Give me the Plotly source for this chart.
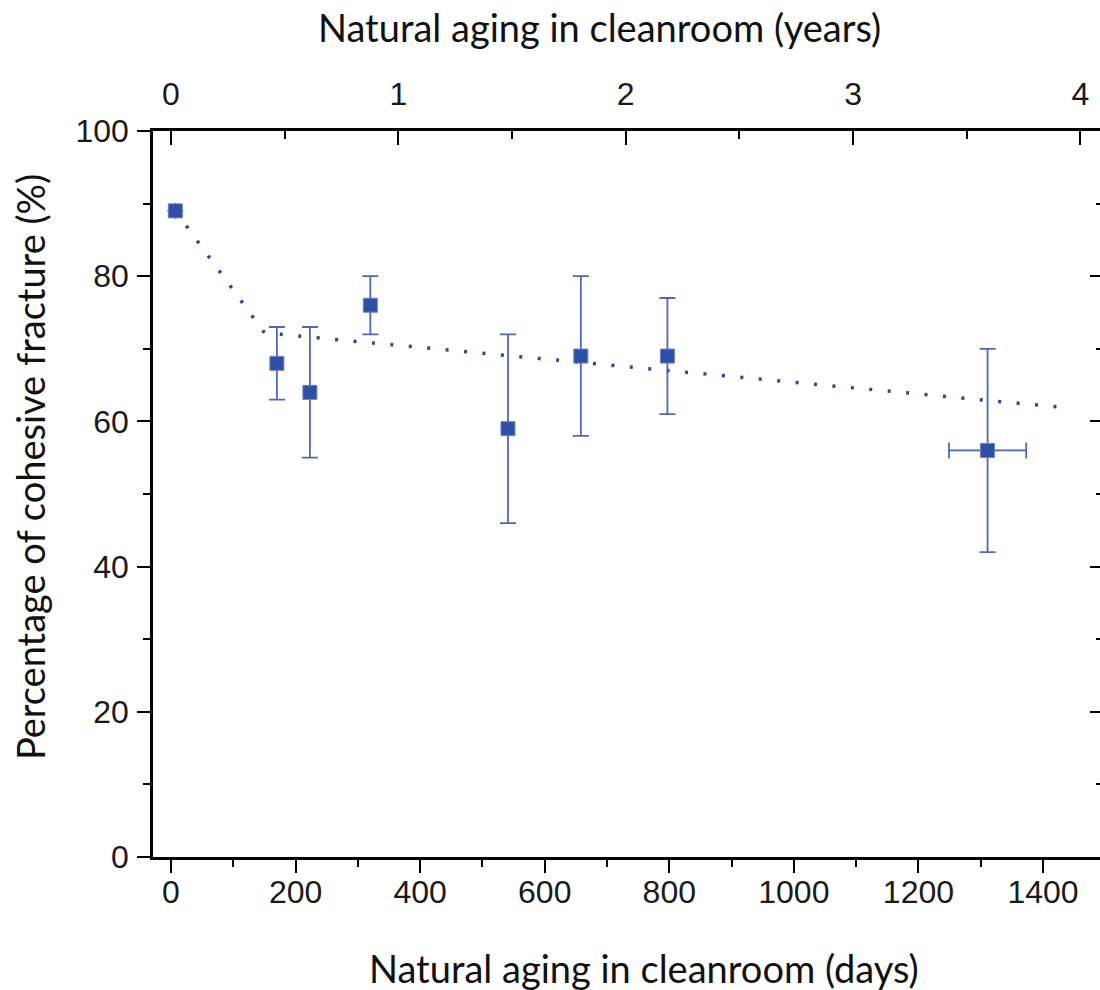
import plotly.graph_objects as go

# Data; None = no error bar drawn
days = [7, 170, 223, 320, 541, 658, 797, 1311]
fracture_pct = [89, 68, 64, 76, 59, 69, 69, 56]
err_pct = [None, 5, 9, 4, 13, 11, 8, 14]
err_days = [None, None, None, None, None, None, None, 62]

trend_days = [7, 150, 1435]
trend_pct = [89, 72.2, 61.9]

x_ticks_days = [0, 200, 400, 600, 800, 1000, 1200, 1400]
y_ticks = [0, 20, 40, 60, 80, 100]
year_ticks = [0, 1, 2, 3, 4]

x_title = "Natural aging in cleanroom (days)"
x2_title = "Natural aging in cleanroom (years)"
y_title = "Percentage of cohesive fracture (%)"

DAYS_PER_YEAR = 365.0
x_range = [-28.9, 1491.5]

marker_color = "#2E4FA6"
marker_line = "#6A80C8"
err_color = "#5068B8"
trend_color = "#34468E"

tick_font = dict(family="Liberation Sans, Arial, sans-serif", size=32, color="#1a1a1a")
title_font = dict(family="Lato, Carlito, sans-serif", size=38, color="#111111")

fig = go.Figure()

fig.add_trace(go.Scatter(
    x=trend_days, y=trend_pct, mode="lines",
    line=dict(color=trend_color, width=3.5, dash="3px,15.5px"),
    hoverinfo="skip", showlegend=False,
))

fig.add_trace(go.Scatter(
    x=days, y=fracture_pct, mode="markers",
    marker=dict(symbol="square", size=14, color=marker_color,
                line=dict(color=marker_line, width=1)),
    error_y=dict(type="data", array=err_pct, visible=True,
                 color=err_color, thickness=1.8, width=8),
    error_x=dict(type="data", array=err_days, visible=True,
                 color=err_color, thickness=1.8, width=8),
    showlegend=False,
))

# invisible trace to anchor the top (years) and right axes
fig.add_trace(go.Scatter(
    x=[d / DAYS_PER_YEAR for d in days], y=fracture_pct,
    xaxis="x2", yaxis="y2", mode="markers",
    marker=dict(opacity=0), hoverinfo="skip", showlegend=False,
))

fig.update_layout(
    width=1100, height=990,
    margin=dict(l=153, r=0, t=131, b=133),
    paper_bgcolor="white", plot_bgcolor="white",
    xaxis=dict(
        range=x_range, tickvals=x_ticks_days,
        ticktext=[str(v) for v in x_ticks_days],
        showgrid=False, zeroline=False,
        showline=True, linecolor="black", linewidth=2.5,
        ticks="outside", ticklen=13, tickwidth=2, tickcolor="black",
        minor=dict(dtick=100, tick0=0, ticks="outside", ticklen=7,
                   tickwidth=2, tickcolor="black", showgrid=False),
        tickfont=tick_font, ticklabelstandoff=-8,
    ),
    xaxis2=dict(
        overlaying="x", side="top", anchor="y",
        range=[x_range[0] / DAYS_PER_YEAR, x_range[1] / DAYS_PER_YEAR],
        tickvals=year_ticks, ticktext=[str(v) for v in year_ticks],
        showgrid=False, zeroline=False,
        showline=True, linecolor="black", linewidth=2.5,
        ticks="inside", ticklen=14, tickwidth=2, tickcolor="black",
        minor=dict(dtick=0.5, tick0=0, ticks="inside", ticklen=8,
                   tickwidth=2, tickcolor="black", showgrid=False),
        tickfont=tick_font, ticklabelstandoff=10,
    ),
    yaxis=dict(
        range=[0, 100], tickvals=y_ticks, ticktext=[str(v) for v in y_ticks],
        showgrid=False, zeroline=False,
        showline=True, linecolor="black", linewidth=2.5,
        ticks="outside", ticklen=13, tickwidth=2, tickcolor="black",
        minor=dict(dtick=10, tick0=0, ticks="outside", ticklen=7,
                   tickwidth=2, tickcolor="black", showgrid=False),
        tickfont=tick_font, ticklabelstandoff=2,
    ),
    yaxis2=dict(
        overlaying="y", side="right", anchor="x",
        range=[0, 100], tickvals=y_ticks, showticklabels=False,
        showgrid=False, zeroline=False, showline=False,
        ticks="inside", ticklen=10, tickwidth=2, tickcolor="black",
        minor=dict(dtick=10, tick0=0, ticks="inside", ticklen=4,
                   tickwidth=2, tickcolor="black", showgrid=False),
    ),
    annotations=[
        dict(text=x_title, xref="paper", yref="paper", x=0.5185, y=-0.1529,
             xanchor="center", yanchor="middle", showarrow=False, font=title_font),
        dict(text=x2_title, xref="paper", yref="paper", x=0.471, y=1.1433,
             xanchor="center", yanchor="middle", showarrow=False, font=title_font),
        dict(text=y_title, xref="paper", yref="paper", x=-0.1299, y=0.537,
             xanchor="center", yanchor="middle", textangle=-90, showarrow=False,
             font=title_font),
    ],
)

fig.write_html("out.html")
